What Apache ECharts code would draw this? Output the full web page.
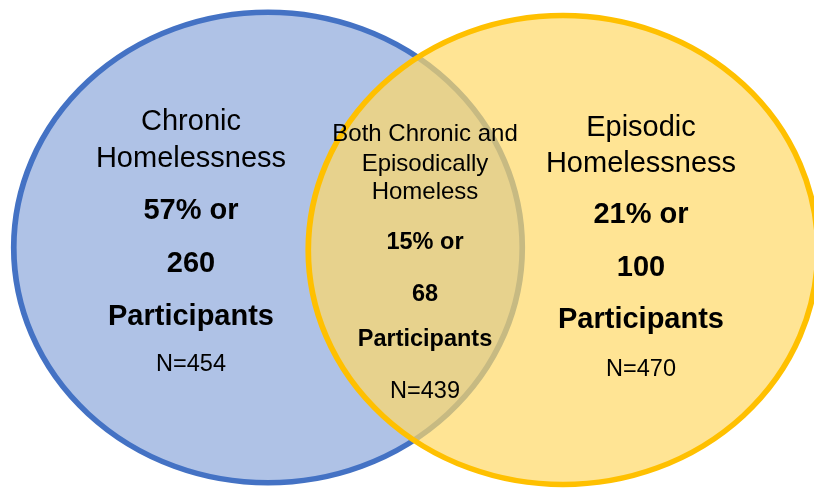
<!DOCTYPE html>
<html>
<head>
<meta charset="utf-8">
<script src="https://cdn.jsdelivr.net/npm/echarts@6/dist/echarts.min.js"></script>
<style>
  html, body { margin: 0; padding: 0; background: #fff; }
  #chart { width: 814px; height: 488px; }
</style>
</head>
<body>
<div id="chart"></div>
<script>
// region data
const regionTitles = [
    ['Chronic', 'Homelessness'],
    ['Both Chronic and', 'Episodically', 'Homeless'],
    ['Episodic', 'Homelessness']
];
const percents = [57, 15, 21];
const participants = [260, 68, 100];
const sampleSizes = [454, 439, 470];

// layout (pixels, axes map 1:1 to the canvas)
const regionLayout = [
    { x: 191, ys: [122, 159, 211, 264, 317, 365], title: 29, bold: 29, n: 23.5 },
    { x: 425, ys: [134.5, 164, 192, 243, 295, 340, 392], title: 24, bold: 23.5, n: 23.5 },
    { x: 641, ys: [128, 164, 215, 268, 320, 370], title: 29, bold: 29, n: 23.5 }
];
const FONT = '"Liberation Sans", Arial, sans-serif';

const labelData = [];
regionTitles.forEach((titles, i) => {
    const lay = regionLayout[i];
    const lines = [];
    titles.forEach(t => lines.push({ text: t, size: lay.title, weight: 'normal' }));
    lines.push({ text: percents[i] + '% or', size: lay.bold, weight: 'bold' });
    lines.push({ text: String(participants[i]), size: lay.bold, weight: 'bold' });
    lines.push({ text: 'Participants', size: lay.bold, weight: 'bold' });
    lines.push({ text: 'N=' + sampleSizes[i], size: lay.n, weight: 'normal' });
    lines.forEach((ln, k) => {
        labelData.push({
            value: [lay.x, lay.ys[k]],
            label: {
                formatter: ln.text,
                fontSize: ln.size,
                fontWeight: ln.weight
            }
        });
    });
});

const chart = echarts.init(document.getElementById('chart'));
chart.setOption({
    animation: false,
    backgroundColor: '#fff',
    grid: { left: 0, right: 0, top: 0, bottom: 0 },
    xAxis: { type: 'value', min: 0, max: 814, show: false },
    yAxis: { type: 'value', min: 0, max: 488, inverse: true, show: false },
    series: [
        {
            name: 'Chronic',
            type: 'scatter',
            silent: true,
            clip: false,
            symbol: 'circle',
            symbolSize: [508.5, 470.5],
            data: [[268, 247.5]],
            itemStyle: { color: '#AFC2E6', borderColor: '#4472C4', borderWidth: 5.5, opacity: 1 },
            z: 1
        },
        {
            name: 'Episodic',
            type: 'scatter',
            silent: true,
            clip: false,
            symbol: 'circle',
            symbolSize: [509.5, 469],
            data: [[563, 250]],
            itemStyle: { color: 'rgba(255, 217, 102, 0.7)', borderColor: '#FFC000', borderWidth: 5.5, opacity: 1 },
            z: 2
        },
        {
            name: 'labels',
            type: 'scatter',
            silent: true,
            clip: false,
            symbolSize: 0,
            data: labelData,
            itemStyle: { opacity: 1 },
            label: {
                show: true,
                position: 'inside',
                align: 'center',
                verticalAlign: 'middle',
                color: '#000',
                opacity: 1,
                textBorderWidth: 0,
                fontFamily: FONT
            },
            z: 3
        }
    ]
});
</script>
</body>
</html>
